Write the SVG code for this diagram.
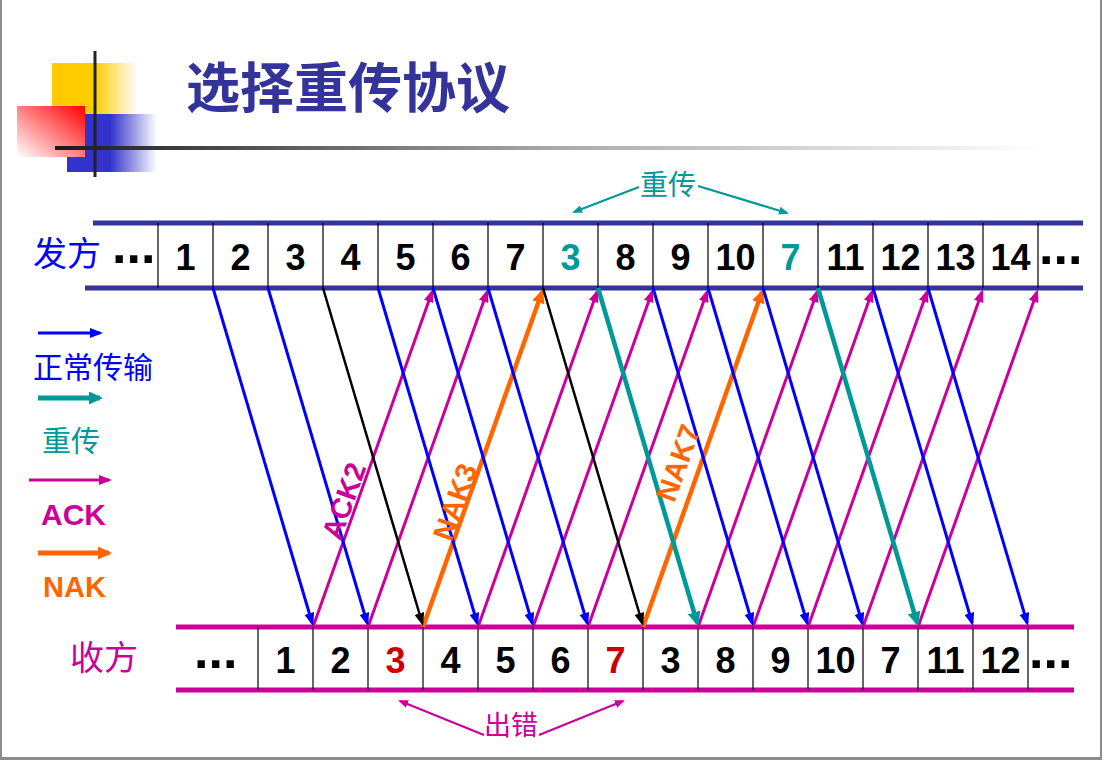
<svg xmlns="http://www.w3.org/2000/svg" width="1105" height="772" viewBox="0 0 1105 772">
<defs>
<linearGradient id="gY" x1="0" y1="0" x2="1" y2="0"><stop offset="0" stop-color="#FFCC00"/><stop offset="0.5" stop-color="#FFCC00"/><stop offset="1" stop-color="#FFCC00" stop-opacity="0"/></linearGradient>
<linearGradient id="gB" x1="0" y1="0" x2="1" y2="0"><stop offset="0" stop-color="#3333CC"/><stop offset="0.48" stop-color="#3333CC"/><stop offset="1" stop-color="#3333CC" stop-opacity="0"/></linearGradient>
<linearGradient id="gR" x1="1" y1="0" x2="0" y2="1"><stop offset="0" stop-color="#FF0000"/><stop offset="1" stop-color="#FFFFFF"/></linearGradient>
<linearGradient id="gL" x1="55" y1="0" x2="1045" y2="0" gradientUnits="userSpaceOnUse"><stop offset="0" stop-color="#1a1a1a"/><stop offset="0.5" stop-color="#a8a8a8"/><stop offset="1" stop-color="#ffffff"/></linearGradient>
<marker id="mBlue" markerUnits="userSpaceOnUse" markerWidth="13" markerHeight="10" refX="10" refY="5" orient="auto"><path d="M0,0 L13,5 L0,10 z" fill="#0000FF"/></marker>
<marker id="mBlack" markerUnits="userSpaceOnUse" markerWidth="13" markerHeight="10" refX="10" refY="5" orient="auto"><path d="M0,0 L13,5 L0,10 z" fill="#000000"/></marker>
<marker id="mMag" markerUnits="userSpaceOnUse" markerWidth="13" markerHeight="10" refX="10" refY="5" orient="auto"><path d="M0,0 L13,5 L0,10 z" fill="#CC0099"/></marker>
<marker id="mTeal" markerUnits="userSpaceOnUse" markerWidth="14" markerHeight="13" refX="11" refY="6.5" orient="auto"><path d="M0,0 L14,6.5 L0,13 z" fill="#009999"/></marker>
<marker id="mOr" markerUnits="userSpaceOnUse" markerWidth="14" markerHeight="13" refX="11" refY="6.5" orient="auto"><path d="M0,0 L14,6.5 L0,13 z" fill="#FF6600"/></marker>
<marker id="mTealS" markerUnits="userSpaceOnUse" markerWidth="10" markerHeight="8" refX="8" refY="4" orient="auto"><path d="M0,0 L10,4 L0,8 z" fill="#009999"/></marker>
<marker id="mMagS" markerUnits="userSpaceOnUse" markerWidth="10" markerHeight="8" refX="8" refY="4" orient="auto"><path d="M0,0 L10,4 L0,8 z" fill="#CC0099"/></marker>
</defs>
<style>
.num{font-family:"Liberation Sans",Arial,sans-serif;font-weight:bold;font-size:36px;text-anchor:middle;fill:#000}
.dots{font-family:"Liberation Sans",Arial,sans-serif;font-weight:bold;font-size:52px;fill:#000}
.cjk{font-family:"Noto Sans CJK SC",sans-serif}
.lab{font-family:"Liberation Sans",Arial,sans-serif;font-weight:bold}
.div{stroke:#000;stroke-width:1.2}
.blue{stroke:#0000FF;stroke-width:3;fill:none;marker-end:url(#mBlue)}
.black{stroke:#000;stroke-width:2.5;fill:none;marker-end:url(#mBlack)}
.teal{stroke:#009999;stroke-width:4.5;fill:none;marker-end:url(#mTeal)}
.mag{stroke:#CC0099;stroke-width:3;fill:none;marker-end:url(#mMag)}
.or{stroke:#FF6600;stroke-width:4.5;fill:none;marker-end:url(#mOr)}
</style>
<rect width="1105" height="772" fill="#fff"/>
<g id="frame" fill="#8c8c8c">
<rect x="0" y="0" width="2" height="760"/>
<rect x="1100" y="0" width="2" height="760"/>
<rect x="0" y="757" width="1102" height="3"/>
</g>
<g id="logo">
<rect x="52" y="63" width="85" height="55" fill="url(#gY)"/>
<rect x="67" y="114" width="90" height="58" fill="url(#gB)"/>
<rect x="17" y="106" width="68" height="51" fill="url(#gR)"/>
<rect x="55" y="146" width="990" height="4" fill="url(#gL)"/>
<rect x="93.5" y="51" width="3" height="126" fill="#222"/>
</g>
<g id="title"><text class="cjk" x="186" y="108" font-size="54" font-weight="bold" fill="#333399">选择重传协议</text></g>

<g id="sender">
<text class="cjk" x="33" y="266" font-size="34" fill="#0000FF">发方</text>
<line x1="93" y1="223" x2="1083" y2="223" stroke="#333399" stroke-width="5"/>
<line x1="85" y1="288" x2="1083" y2="288" stroke="#333399" stroke-width="5"/>
<g class="div">
<line x1="158" y1="223" x2="158" y2="288"/><line x1="213" y1="223" x2="213" y2="288"/><line x1="268" y1="223" x2="268" y2="288"/><line x1="323" y1="223" x2="323" y2="288"/><line x1="378" y1="223" x2="378" y2="288"/><line x1="433" y1="223" x2="433" y2="288"/><line x1="488" y1="223" x2="488" y2="288"/><line x1="543" y1="223" x2="543" y2="288"/><line x1="598" y1="223" x2="598" y2="288"/><line x1="653" y1="223" x2="653" y2="288"/><line x1="708" y1="223" x2="708" y2="288"/><line x1="763" y1="223" x2="763" y2="288"/><line x1="818" y1="223" x2="818" y2="288"/><line x1="873" y1="223" x2="873" y2="288"/><line x1="928" y1="223" x2="928" y2="288"/><line x1="983" y1="223" x2="983" y2="288"/><line x1="1038" y1="223" x2="1038" y2="288"/>
</g>
<text class="dots" x="112" y="263">...</text>
<g id="s1"><text class="num" x="185.5" y="270">1</text></g>
<g id="s2"><text class="num" x="240.5" y="270">2</text></g>
<g id="s3"><text class="num" x="295.5" y="270">3</text></g>
<g id="s4"><text class="num" x="350.5" y="270">4</text></g>
<g id="s5"><text class="num" x="405.5" y="270">5</text></g>
<g id="s6"><text class="num" x="460.5" y="270">6</text></g>
<g id="s7"><text class="num" x="515.5" y="270">7</text></g>
<g id="s3r"><text class="num" x="570.5" y="270" style="fill:#009999">3</text></g>
<g id="s8"><text class="num" x="625.5" y="270">8</text></g>
<g id="s9"><text class="num" x="680.5" y="270">9</text></g>
<g id="s10"><text class="num" x="735.5" y="270">10</text></g>
<g id="s7r"><text class="num" x="790.5" y="270" style="fill:#009999">7</text></g>
<g id="s11"><text class="num" x="845.5" y="270">11</text></g>
<g id="s12"><text class="num" x="900.5" y="270">12</text></g>
<g id="s13"><text class="num" x="955.5" y="270">13</text></g>
<g id="s14"><text class="num" x="1010.5" y="270">14</text></g>
<text class="dots" x="1039" y="264">...</text>
</g>

<g id="receiver">
<text class="cjk" x="70" y="670" font-size="34" fill="#CC0099">收方</text>
<line x1="176" y1="627" x2="1074" y2="627" stroke="#CC0099" stroke-width="5"/>
<line x1="176" y1="690" x2="1074" y2="690" stroke="#CC0099" stroke-width="5"/>
<g class="div">
<line x1="258" y1="627" x2="258" y2="690"/><line x1="313" y1="627" x2="313" y2="690"/><line x1="368" y1="627" x2="368" y2="690"/><line x1="423" y1="627" x2="423" y2="690"/><line x1="478" y1="627" x2="478" y2="690"/><line x1="533" y1="627" x2="533" y2="690"/><line x1="588" y1="627" x2="588" y2="690"/><line x1="643" y1="627" x2="643" y2="690"/><line x1="698" y1="627" x2="698" y2="690"/><line x1="753" y1="627" x2="753" y2="690"/><line x1="808" y1="627" x2="808" y2="690"/><line x1="863" y1="627" x2="863" y2="690"/><line x1="918" y1="627" x2="918" y2="690"/><line x1="973" y1="627" x2="973" y2="690"/><line x1="1028" y1="627" x2="1028" y2="690"/>
</g>
<text class="dots" x="194" y="668">...</text>
<g id="r1"><text class="num" x="285.5" y="673">1</text></g>
<g id="r2"><text class="num" x="340.5" y="673">2</text></g>
<g id="r3"><text class="num" x="395.5" y="673" style="fill:#CC0000">3</text></g>
<g id="r4"><text class="num" x="450.5" y="673">4</text></g>
<g id="r5"><text class="num" x="505.5" y="673">5</text></g>
<g id="r6"><text class="num" x="560.5" y="673">6</text></g>
<g id="r7"><text class="num" x="615.5" y="673" style="fill:#CC0000">7</text></g>
<g id="r3b"><text class="num" x="670.5" y="673">3</text></g>
<g id="r8"><text class="num" x="725.5" y="673">8</text></g>
<g id="r9"><text class="num" x="780.5" y="673">9</text></g>
<g id="r10"><text class="num" x="835.5" y="673">10</text></g>
<g id="r7b"><text class="num" x="890.5" y="673">7</text></g>
<g id="r11"><text class="num" x="945.5" y="673">11</text></g>
<g id="r12"><text class="num" x="1000.5" y="673">12</text></g>
<text class="dots" x="1029" y="668">...</text>
</g>

<g id="connectors">
<line class="mag" x1="313" y1="627" x2="432" y2="292"/>
<line class="mag" x1="368" y1="627" x2="487" y2="292"/>
<line class="or" x1="423" y1="627" x2="542" y2="292"/>
<line class="mag" x1="478" y1="627" x2="597" y2="292"/>
<line class="mag" x1="533" y1="627" x2="652" y2="292"/>
<line class="mag" x1="588" y1="627" x2="707" y2="292"/>
<line class="or" x1="643" y1="627" x2="762" y2="292"/>
<line class="mag" x1="698" y1="627" x2="817" y2="292"/>
<line class="mag" x1="753" y1="627" x2="872" y2="292"/>
<line class="mag" x1="808" y1="627" x2="927" y2="292"/>
<line class="mag" x1="863" y1="627" x2="982" y2="292"/>
<line class="mag" x1="918" y1="627" x2="1037" y2="292"/>

<line class="blue" x1="213" y1="288" x2="312.2" y2="623"/>
<line class="blue" x1="268" y1="288" x2="367.2" y2="623"/>
<line class="black" x1="323" y1="288" x2="422.2" y2="623"/>
<line class="blue" x1="378" y1="288" x2="477.2" y2="623"/>
<line class="blue" x1="433" y1="288" x2="532.2" y2="623"/>
<line class="blue" x1="488" y1="288" x2="587.2" y2="623"/>
<line class="black" x1="543" y1="288" x2="642.2" y2="623"/>
<line class="teal" x1="598" y1="288" x2="697.2" y2="623"/>
<line class="blue" x1="653" y1="288" x2="752.2" y2="623"/>
<line class="blue" x1="708" y1="288" x2="807.2" y2="623"/>
<line class="blue" x1="763" y1="288" x2="862.2" y2="623"/>
<line class="teal" x1="818" y1="288" x2="917.2" y2="623"/>
<line class="blue" x1="873" y1="288" x2="972.2" y2="623"/>
<line class="blue" x1="928" y1="288" x2="1027.2" y2="623"/>

<g id="resend-label">
<text class="cjk" x="668" y="195" font-size="28" fill="#009999" text-anchor="middle">重传</text>
<line x1="639" y1="187" x2="574" y2="212" stroke="#009999" stroke-width="2.2" marker-end="url(#mTealS)"/>
<line x1="698" y1="186" x2="787" y2="213" stroke="#009999" stroke-width="2.2" marker-end="url(#mTealS)"/>
</g>
<g id="error-label">
<text class="cjk" x="511" y="735" font-size="27" fill="#CC0099" text-anchor="middle">出错</text>
<line x1="484" y1="735" x2="400" y2="701" stroke="#CC0099" stroke-width="2.2" marker-end="url(#mMagS)"/>
<line x1="539" y1="735" x2="623" y2="701" stroke="#CC0099" stroke-width="2.2" marker-end="url(#mMagS)"/>
</g>
<text class="lab" transform="translate(344,501) rotate(-70.5)" x="0" y="10" font-size="29" fill="#CC0099" text-anchor="middle">ACK2</text>
<text class="lab" transform="translate(455,502) rotate(-70.5)" x="0" y="10" font-size="29" fill="#FF6600" text-anchor="middle">NAK3</text>
<text class="lab" transform="translate(678,463) rotate(-70.5)" x="0" y="10" font-size="29" fill="#FF6600" text-anchor="middle">NAK7</text>
</g>

<g id="legend">
<line x1="38" y1="333" x2="100" y2="333" stroke="#0000FF" stroke-width="3" marker-end="url(#mBlue)"/>
<text class="cjk" x="33" y="378" font-size="30" fill="#0000FF">正常传输</text>
<line x1="38" y1="398" x2="100" y2="398" stroke="#009999" stroke-width="5" marker-end="url(#mTeal)"/>
<text class="cjk" x="42" y="452" font-size="29" fill="#009999">重传</text>
<line x1="29" y1="480" x2="109" y2="480" stroke="#CC0099" stroke-width="3" marker-end="url(#mMag)"/>
<text class="lab" x="41" y="525" font-size="30" fill="#CC0099">ACK</text>
<line x1="38" y1="553" x2="109" y2="553" stroke="#FF6600" stroke-width="5" marker-end="url(#mOr)"/>
<text class="lab" x="43" y="597" font-size="29" fill="#FF6600">NAK</text>
</g>
</svg>
